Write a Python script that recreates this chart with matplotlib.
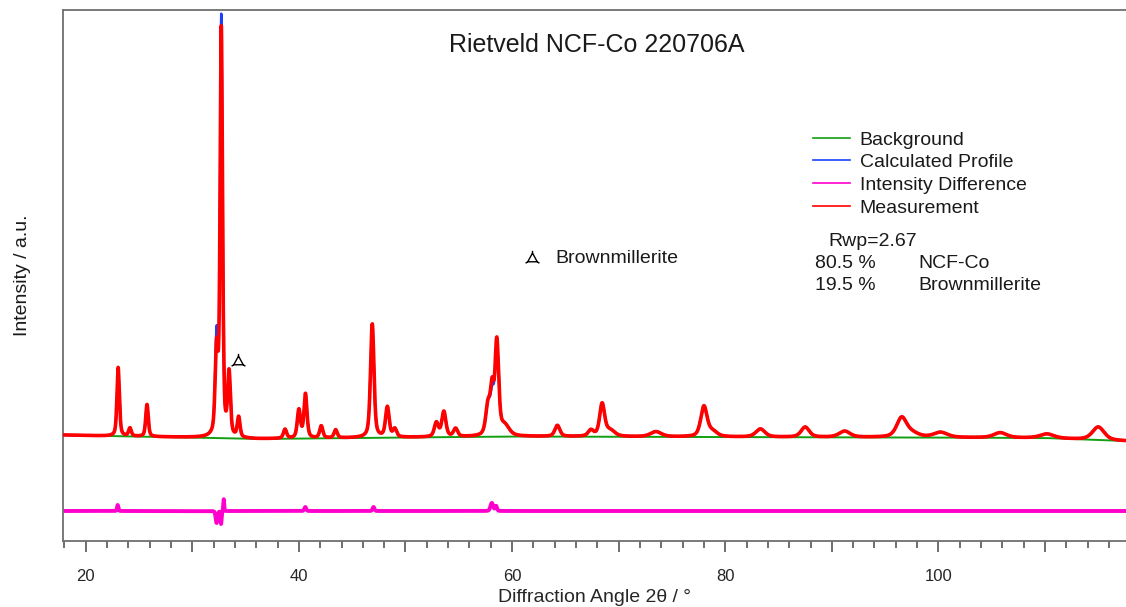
import numpy as np
import matplotlib
matplotlib.use("Agg")
import matplotlib.pyplot as plt
from matplotlib.path import Path
from matplotlib.lines import Line2D
from matplotlib.ticker import MultipleLocator, FuncFormatter

plt.rcParams['font.family'] = ['Liberation Sans', 'DejaVu Sans']

# Refined reflections: position (2theta, deg), peak height (a.u.), FWHM (deg)
peak_pos = [23.05, 24.15, 25.75, 32.28, 32.72, 33.45, 34.35, 38.7, 40.0, 40.62,
            42.1, 43.45, 46.88, 48.3, 49.0, 52.9, 53.6, 54.7, 57.75, 58.15,
            58.58, 59.3, 64.25, 67.4, 68.45, 69.2, 73.5, 78.0, 78.8, 83.3,
            87.5, 91.2, 96.55, 97.5, 100.2, 105.8, 110.2, 115.0]
peak_height = [64, 8, 32, 95, 418, 62, 20, 9, 28, 40,
               12, 8, 112, 30, 8, 14, 25, 8, 30, 35,
               88, 10, 11, 6, 32, 6, 5, 30, 5, 8,
               10, 6, 19, 4, 5, 5, 4, 13]
peak_fwhm = [0.28, 0.3, 0.28, 0.30, 0.26, 0.30, 0.30, 0.35, 0.35, 0.35,
             0.35, 0.35, 0.38, 0.4, 0.4, 0.45, 0.45, 0.45, 0.5, 0.4,
             0.40, 1.0, 0.55, 0.6, 0.55, 1.0, 1.2, 0.7, 1.0, 1.0,
             0.9, 1.2, 1.1, 1.5, 1.5, 1.4, 1.5, 1.3]

# Background control points
bg_pos = [18.0, 22.0, 30.0, 36.0, 45.0, 60.0, 80.0, 100.0, 110.0, 117.6]
bg_level = [3.0, 2.0, 0.5, -1.0, 0.0, 1.5, 1.0, 0.5, 0.0, -3.0]

# Misfit features (measurement minus calculation)
res_pos = [23.0, 32.28, 32.70, 32.95, 40.6, 47.0, 58.1, 58.5]
res_amp = [6, -12, -13, 12, 4, 4, 8, 5]
res_width = [0.15, 0.2, 0.12, 0.1, 0.2, 0.2, 0.3, 0.2]

diff_offset = -73.0
x_min, x_max = 17.87, 117.6

two_theta = np.arange(x_min, x_max, 0.01)


def pseudo_voigt(x, x0, h, w, eta=0.5):
    g = np.exp(-4 * np.log(2) * ((x - x0) / w) ** 2)
    l = 1.0 / (1.0 + 4 * ((x - x0) / w) ** 2)
    return h * (eta * l + (1 - eta) * g)


background = np.interp(two_theta, bg_pos, bg_level)
calculated = background.copy()
for p, h, w in zip(peak_pos, peak_height, peak_fwhm):
    calculated += pseudo_voigt(two_theta, p, h, w)

misfit = np.zeros_like(two_theta)
for p, a, w in zip(res_pos, res_amp, res_width):
    misfit += pseudo_voigt(two_theta, p, a, w, eta=0.2)
measured = calculated + misfit
difference = measured - calculated + diff_offset

fig = plt.figure(figsize=(11.26, 6.07), dpi=100)
ax = fig.add_axes([63 / 1126, 66 / 607, 1 - 63 / 1126, 531 / 607])

c_bg = '#12a012'
c_calc = '#1f3fff'
c_diff = '#ff00cc'
c_meas = '#ff0000'

ax.plot(two_theta, background, color=c_bg, lw=1.4, zorder=2)
ax.plot(two_theta, difference, color=c_diff, lw=2.8, zorder=2)
ax.plot(two_theta, calculated, color=c_calc, lw=1.8, zorder=3)
ax.plot(two_theta, measured, color=c_meas, lw=2.6, zorder=4)

ax.set_xlim(x_min, x_max)
ax.set_ylim(-103, 428)

# Brownmillerite reflection marker: triangle with short tails at the corners
bm = Path([(0, 0.75), (-0.65, -0.45), (0.65, -0.45), (0, 0.75),
           (0, 0.75), (0, 1.05),
           (-0.65, -0.45), (-0.95, -0.65),
           (0.65, -0.45), (0.95, -0.65)],
          [Path.MOVETO, Path.LINETO, Path.LINETO, Path.LINETO,
           Path.MOVETO, Path.LINETO,
           Path.MOVETO, Path.LINETO,
           Path.MOVETO, Path.LINETO])
ax.plot([34.25], [77], marker=bm, ms=11, mfc='none', mec='black', mew=1.0, ls='none', zorder=5)
fig.lines.append(Line2D([532 / 1126], [1 - 257.5 / 607], marker=bm, ms=11, mfc='none',
                        mec='black', mew=1.0, ls='none', transform=fig.transFigure))
fig.text(555 / 1126, 1 - 258 / 607, 'Brownmillerite', fontsize=14, va='center', ha='left',
         color='#1a1a1a')

ax.spines['right'].set_visible(False)
for s in ['left', 'top', 'bottom']:
    ax.spines[s].set_color('#707070')
    ax.spines[s].set_linewidth(1.3)

ax.set_yticks([])
ax.xaxis.set_major_locator(MultipleLocator(10))
ax.xaxis.set_minor_locator(MultipleLocator(2))
ax.xaxis.set_major_formatter(FuncFormatter(lambda v, pos: f'{v:.0f}' if round(v) % 20 == 0 else ''))
ax.tick_params(axis='x', which='major', length=8, width=1.2, color='#555555',
               labelsize=12, labelcolor='#262626', pad=12)
ax.tick_params(axis='x', which='minor', length=5, width=1.2, color='#555555')

ax.set_xlabel('Diffraction Angle 2θ / °', fontsize=14, color='#262626', labelpad=4)
ax.set_ylabel('Intensity / a.u.', fontsize=14, color='#1a1a1a', labelpad=23)

fig.text(597 / 1126, 1 - 45 / 607, 'Rietveld NCF-Co 220706A', fontsize=18,
         ha='center', va='center', color='#1a1a1a')

handles = [Line2D([], [], color=c_bg, lw=1.2),
           Line2D([], [], color=c_calc, lw=1.2),
           Line2D([], [], color=c_diff, lw=1.2),
           Line2D([], [], color=c_meas, lw=1.2)]
labels = ['Background', 'Calculated Profile', 'Intensity Difference', 'Measurement']
ax.legend(handles, labels, loc='upper left', bbox_to_anchor=(813 / 1126, 1 - 131 / 607),
          bbox_transform=fig.transFigure, frameon=False, fontsize=14,
          handlelength=1.92, handletextpad=0.48, labelspacing=0.26,
          borderpad=0, borderaxespad=0, labelcolor='#1a1a1a')

fig.text(828 / 1126, 1 - 241.5 / 607, 'Rwp=2.67', fontsize=14, va='center', color='#1a1a1a')
fig.text(815 / 1126, 1 - 263.5 / 607, '80.5 %', fontsize=14, va='center', color='#1a1a1a')
fig.text(918 / 1126, 1 - 263.5 / 607, 'NCF-Co', fontsize=14, va='center', color='#1a1a1a')
fig.text(815 / 1126, 1 - 286 / 607, '19.5 %', fontsize=14, va='center', color='#1a1a1a')
fig.text(918 / 1126, 1 - 286 / 607, 'Brownmillerite', fontsize=14, va='center', color='#1a1a1a')

fig.savefig('out.png', dpi=100)
